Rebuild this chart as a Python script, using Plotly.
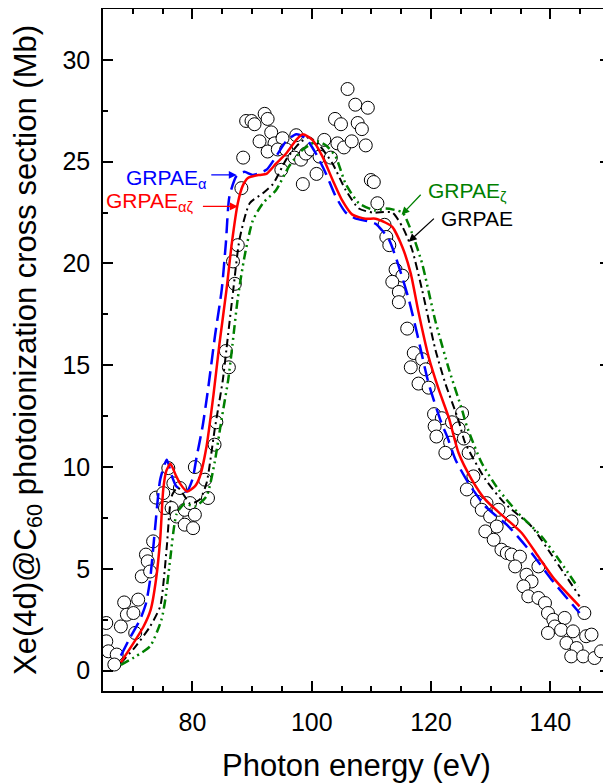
import plotly.graph_objects as go

# ---------------- data ----------------
exp_x = [65.55, 65.55, 65.9, 67.3, 66.9, 68.0, 68.55, 69.0, 70.1, 70.4, 70.9, 71.5, 72.2, 72.5, 72.9, 73.4,
         73.9, 75.1, 75.95, 76.8, 75.4, 76.5, 77.9, 77.35, 78.7, 79.6, 80.4, 78.7, 80.1, 80.4, 82.1, 82.6, 83.7, 84.0,
         85.6, 86.1, 87.1, 86.8, 87.6, 88.2, 88.5,
         89.0, 89.9, 90.4, 92.1, 92.6, 93.2, 91.25, 93.75, 95.1, 97.4, 92.6, 94.3, 95.7, 97.1, 98.2, 99.0, 99.9,
         101.3, 102.1, 103.2, 104.3, 105.4, 106.7, 109.05, 94.9, 100.8, 98.5, 103.9, 104.9, 106.0, 107.3, 109.4,
         107.7, 108.4, 109.9, 110.4, 111.0,
         112.2, 112.5, 113.0, 114.05, 115.2, 113.5, 114.6, 114.6, 116.0, 117.1, 118.5, 116.6, 119.1, 117.9, 119.6,
         120.5, 121.8, 120.6, 120.9, 123.5, 125.2, 124.6, 125.5, 123.2, 122.4, 126.3, 127.1, 126.0, 127.7, 129.3,
         128.5, 129.9, 131.3, 131.0, 133.5, 129.1, 130.5, 131.8, 132.7, 133.5, 134.9, 134.1, 138.0, 136.0, 136.85,
         135.5, 136.3, 138.0, 139.1, 139.6, 140.5, 142.4, 140.75, 141.8, 143.8, 139.6, 142.7, 144.4, 146.0, 146.9,
         143.5, 145.5, 147.4, 148.5, 145.7]
exp_y = [2.34, 1.44, 0.95, 0.79, 0.3, 2.17, 3.35, 2.75, 2.83, 1.85, 3.49, 4.63, 5.7, 5.37, 4.87, 6.35,
         8.5, 8.72, 9.95, 9.2, 7.99, 7.99, 8.97, 7.57, 7.9, 8.23, 7.66, 7.17, 7.0, 10.0, 9.38, 8.48, 11.1, 12.2,
         15.7, 14.9, 19.0, 20.1, 20.9, 23.7, 25.2,
         27.0, 27.0, 26.84, 27.35, 27.1, 26.44, 26.0, 25.9, 26.15, 26.3, 25.5, 25.6, 25.6, 25.2, 25.1, 25.4, 25.6,
         25.25, 26.07, 25.2, 25.9, 25.7, 26.0, 25.8, 24.6, 24.4, 23.9, 27.1, 26.84, 28.57, 27.8, 27.65,
         26.9, 26.6, 24.1, 24.0, 22.96,
         21.9, 21.3, 20.9, 19.7, 19.4, 19.1, 18.6, 18.1, 16.8, 15.6, 15.3, 14.9, 14.8, 14.1, 13.9,
         12.6, 12.4, 12.0, 11.5, 12.2, 12.65, 11.9, 11.4, 11.2, 10.7, 10.7, 9.54, 8.9, 8.3, 8.23,
         7.9, 7.57, 7.9, 7.08, 7.33, 6.84, 6.43, 5.94, 5.78, 5.7, 5.6, 5.12, 5.12, 4.71, 4.38,
         4.14, 3.65, 3.57, 3.32, 2.83, 2.5, 2.59, 2.17, 2.0, 1.93, 1.85, 1.36, 1.11, 1.69, 1.77,
         0.7, 0.7, 0.62, 0.95, 2.83]

# GRPAE_alpha (blue dashed)
a_x = [68.0, 69.5, 71.2, 72.2, 72.9, 73.7, 74.6, 75.7, 76.5, 77.3, 79.0, 80.0, 80.7, 81.7, 82.6, 83.8, 84.9,
       85.6, 86.2, 87.4, 88.7, 90.1, 92.4, 94.0, 95.7, 97.4, 99.0, 100.7, 102.4, 104.0, 105.7, 107.4, 109.05,
       110.7, 112.9, 114.6, 116.3, 117.9, 119.6, 121.7, 122.7, 124.1, 126.3, 129.1, 133.0, 136.85, 140.2, 144.9]
a_y = [0.74, 1.6, 2.5, 3.3, 4.47, 6.9, 9.4, 10.36, 9.6, 9.05, 8.8, 9.4, 10.5, 12.0, 13.8, 16.5, 18.7,
       21.0, 23.3, 24.3, 24.5, 24.35, 24.6, 25.25, 26.0, 26.35, 26.15, 25.4, 24.4, 23.3, 22.5, 22.2, 22.1,
       21.95, 21.2, 19.85, 18.2, 16.25, 14.1, 12.2, 11.5, 10.36, 9.2, 8.07, 7.08, 5.78, 4.47, 2.83]

# GRPAE (black dash-dot)
g_x = [68.0, 70.5, 72.9, 74.6, 75.2, 75.7, 76.5, 77.5, 78.4, 79.6, 81.2, 82.35, 83.7, 85.1, 85.7, 86.8, 87.9,
       89.6, 91.8, 93.5, 95.7, 97.9, 99.5, 101.3, 103.5, 105.7, 107.9, 110.2, 113.5, 115.2, 116.8, 118.5, 120.7,
       122.4, 124.6, 125.7, 129.1, 132.4, 136.85, 140.75, 144.9]
g_y = [0.37, 1.2, 2.17, 3.16, 4.5, 6.1, 8.56, 9.0, 8.7, 8.2, 8.4, 9.2, 11.8, 14.3, 15.8, 18.6, 21.2,
       22.96, 23.45, 23.9, 25.1, 25.9, 26.2, 25.8, 24.9, 23.6, 22.7, 22.5, 22.5, 21.8, 20.7, 18.7, 15.8,
       14.1, 12.3, 11.2, 9.4, 8.2, 7.08, 5.45, 3.65]

# GRPAE_zeta (green dash-dot-dot)
z_x = [68.0, 70.5, 72.9, 74.8, 75.5, 76.2, 77.35, 78.7, 80.4, 82.35, 83.7, 84.85, 86.0, 86.7, 87.6, 88.7, 90.1,
       91.8, 94.0, 96.25, 98.5, 100.9, 102.4, 104.0, 105.7, 107.9, 110.7, 112.4, 115.2, 116.8, 118.5, 120.7,
       123.0, 125.2, 126.0, 128.5, 131.3, 134.6, 138.5, 141.8, 144.6]
z_y = [0.28, 0.7, 1.2, 2.5, 3.6, 5.3, 7.7, 8.2, 8.06, 8.56, 10.2, 12.3, 14.3, 16.0, 18.3, 20.3, 22.1,
       22.96, 23.6, 24.8, 25.6, 26.0, 25.8, 25.25, 23.9, 22.96, 22.6, 22.7, 22.5, 21.5, 20.0, 17.2,
       14.8, 12.8, 12.0, 10.2, 8.9, 7.74, 6.6, 5.3, 4.1]

# GRPAE_alpha-zeta (red solid)
az_x = [68.0, 70.0, 71.8, 73.0, 73.9, 74.6, 75.1, 75.6, 76.3, 77.2, 77.9, 79.1, 80.4, 81.2, 82.35, 83.5, 84.5,
        85.7, 86.6, 87.6, 88.4, 89.3, 91.2, 92.4, 94.0, 95.7, 97.4, 98.5, 100.1, 101.8, 103.5, 105.1, 106.8,
        109.0, 110.7, 112.4, 113.5, 115.2, 116.6, 117.9, 119.6, 121.3, 123.0, 124.6, 126.8, 129.1, 131.8,
        135.2, 138.0, 140.75, 144.9]
az_y = [0.41, 1.3, 2.17, 3.0, 4.5, 6.5, 8.9, 9.8, 10.16, 9.6, 9.2, 8.8, 9.05, 9.5, 11.0, 13.5, 16.0,
        18.7, 21.0, 22.96, 23.8, 24.2, 24.35, 24.4, 24.9, 25.4, 26.07, 26.35, 26.07, 25.25, 24.1, 23.1, 22.4,
        22.2, 22.2, 22.0, 21.8, 20.8, 19.5, 17.6, 15.4, 13.8, 12.4, 10.7, 9.4, 8.4, 7.66,
        6.76, 5.6, 4.47, 3.16]

x_ticks = [80, 100, 120, 140]
y_ticks = [0, 5, 10, 15, 20, 25, 30]

FONT = "Liberation Sans, Arial, sans-serif"
GREEN = "#008000"

fig = go.Figure()
fig.add_trace(go.Scatter(x=exp_x, y=exp_y, mode="markers",
                         marker=dict(size=13, color="white", line=dict(color="black", width=1)),
                         showlegend=False))
fig.add_trace(go.Scatter(x=a_x, y=a_y, mode="lines",
                         line=dict(color="#0000FF", width=2.5, dash="15px,7px", shape="spline", smoothing=0.6),
                         showlegend=False))
fig.add_trace(go.Scatter(x=g_x, y=g_y, mode="lines",
                         line=dict(color="black", width=2, dash="8px,4px,2px,4px", shape="spline", smoothing=0.6),
                         showlegend=False))
fig.add_trace(go.Scatter(x=z_x, y=z_y, mode="lines",
                         line=dict(color=GREEN, width=2.5, dash="9px,4px,2px,4px,2px,4px", shape="spline", smoothing=0.6),
                         showlegend=False))
fig.add_trace(go.Scatter(x=az_x, y=az_y, mode="lines",
                         line=dict(color="#FF0000", width=2.5, shape="spline", smoothing=0.6),
                         showlegend=False))

# text labels
labels = [
    ("GRPAE<sub>α</sub>", 68.6, 24.15, "#0000FF"),
    ("GRPAE<sub>αζ</sub>", 65.25, 23.0, "#FF0000"),
    ("GRPAE<sub>ζ</sub>", 119.1, 23.5, GREEN),
    ("GRPAE", 121.4, 22.2, "black"),
]
for txt, x, y, c in labels:
    fig.add_annotation(x=x, y=y, text=txt, showarrow=False, xanchor="left", yanchor="middle",
                       font=dict(family=FONT, size=21, color=c))

# arrows (head x,y ; tail ax,ay)
arrows = [
    (87.4, 24.35, 82.9, 24.35, "#0000FF"),
    (87.6, 22.8, 81.5, 22.8, "#FF0000"),
    (115.06, 22.39, 118.5, 23.45, GREEN),
    (116.28, 21.07, 120.73, 22.27, "black"),
]
for hx, hy, tx, ty, c in arrows:
    fig.add_annotation(x=hx, y=hy, ax=tx, ay=ty, axref="x", ayref="y", xref="x", yref="y",
                       text="", showarrow=True, arrowhead=2, arrowsize=1.2, arrowwidth=1.3,
                       arrowcolor=c)

axis_common = dict(showline=True, linewidth=1.5, linecolor="black", mirror="ticks",
                   ticks="inside", ticklen=10, tickwidth=1.5, tickcolor="black",
                   showgrid=False, zeroline=False,
                   tickfont=dict(family=FONT, size=25, color="black"))

fig.update_xaxes(range=[65, 150], tickmode="array", tickvals=x_ticks, ticktext=[str(v) for v in x_ticks],
                 minor=dict(dtick=5, tick0=0, ticks="inside", ticklen=5, tickwidth=1.5, tickcolor="black", showgrid=False),
                 title=dict(text="Photon energy (eV)", font=dict(family=FONT, size=31, color="black"), standoff=20),
                 ticklabelstandoff=8, **axis_common)
fig.update_yaxes(range=[-1, 32.5], tickmode="array", tickvals=y_ticks, ticktext=[str(v) for v in y_ticks],
                 minor=dict(dtick=2.5, tick0=0, ticks="inside", ticklen=5, tickwidth=1.5, tickcolor="black", showgrid=False),
                 title=dict(text="Xe(4d)@C<sub>60</sub> photoionization cross section (Mb)",
                            font=dict(family=FONT, size=31, color="black"), standoff=21),
                 ticklabelstandoff=6, **axis_common)

# the page adds an 8 px body margin, so the figure is sized to fit the 611x783 window
fig.update_layout(width=603, height=775, margin=dict(l=95, r=1, t=1, b=92, autoexpand=False),
                  plot_bgcolor="white", paper_bgcolor="white", showlegend=False,
                  font=dict(family=FONT, color="black"))

fig.write_html("out.html")
